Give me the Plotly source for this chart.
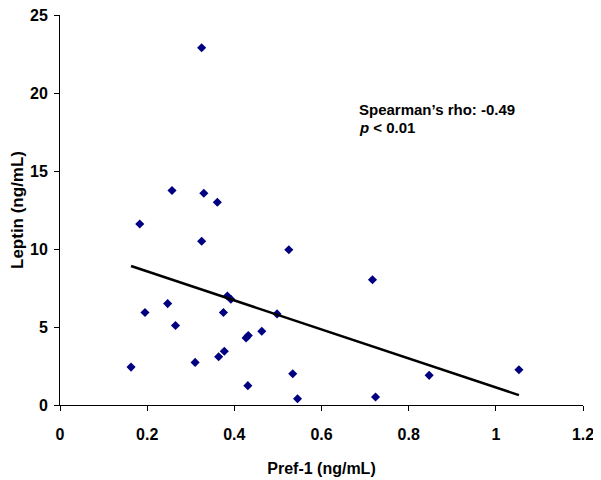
import numpy as np
import plotly.graph_objects as go

pref1 = [0.163, 0.183, 0.195, 0.247, 0.257, 0.265, 0.310, 0.325, 0.325, 0.330,
         0.361, 0.364, 0.377, 0.375, 0.384, 0.392, 0.427, 0.432, 0.431, 0.463,
         0.498, 0.525, 0.534, 0.545, 0.717, 0.724, 0.847, 1.053]
leptin = [2.43, 11.6, 5.93, 6.5, 13.75, 5.1, 2.73, 22.9, 10.5, 13.57,
          13.0, 3.09, 3.45, 5.93, 6.99, 6.78, 4.3, 4.45, 1.24, 4.73,
          5.84, 9.95, 2.0, 0.4, 8.03, 0.51, 1.9, 2.26]

slope, intercept = np.polyfit(pref1, leptin, 1)
trend_x = [min(pref1), max(pref1)]
trend_y = [slope * v + intercept for v in trend_x]

x_ticks = [0, 0.2, 0.4, 0.6, 0.8, 1, 1.2]
x_tick_labels = ["0", "0.2", "0.4", "0.6", "0.8", "1", "1.2"]
y_ticks = [0, 5, 10, 15, 20, 25]

FONT = "Liberation Sans, Arial, sans-serif"

fig = go.Figure()
fig.add_trace(go.Scatter(
    x=pref1, y=leptin, mode="markers",
    marker=dict(symbol="diamond", size=7, color="#000080"),
    showlegend=False, cliponaxis=False))
fig.add_trace(go.Scatter(
    x=trend_x, y=trend_y, mode="lines",
    line=dict(color="black", width=2.5),
    showlegend=False))

# page body has an 8px default margin, so the figure is sized 593x472
fig.update_layout(
    width=593, height=472,
    margin=dict(l=52, r=18, t=7, b=75),
    paper_bgcolor="white", plot_bgcolor="white",
    font=dict(family=FONT, color="black"),
    xaxis=dict(
        range=[0, 1.2], tickvals=x_ticks, ticktext=x_tick_labels,
        showline=True, linecolor="black", linewidth=1,
        ticks="outside", ticklen=5, tickcolor="black",
        showgrid=False, zeroline=False, automargin=False,
        tickfont=dict(size=16, family=FONT, weight="bold"),
        ticklabelstandoff=10, ticklabeloverflow="allow",
        title=dict(text="Pref-1 (ng/mL)", font=dict(size=16, family=FONT, weight="bold"), standoff=20),
    ),
    yaxis=dict(
        range=[0, 25], tickvals=y_ticks,
        showline=True, linecolor="black", linewidth=1,
        ticks="outside", ticklen=5, tickcolor="black",
        showgrid=False, zeroline=False, automargin=False,
        tickfont=dict(size=16, family=FONT, weight="bold"),
        ticklabelstandoff=3, ticklabeloverflow="allow",
        title=dict(text="Leptin (ng/mL)", font=dict(size=17, family=FONT, weight="bold"), standoff=6),
    ),
    annotations=[
        dict(text="Spearman’s rho: -0.49", xref="paper", yref="paper",
             x=(356.7 - 60) / 523, y=(405 - 109) / 390, xanchor="left", yanchor="middle",
             showarrow=False, font=dict(size=15, family=FONT, weight="bold")),
        dict(text="<i>p</i> &lt; 0.01", xref="paper", yref="paper",
             x=(356.7 - 60) / 523, y=(405 - 127.3) / 390, xanchor="left", yanchor="middle",
             showarrow=False, font=dict(size=15, family=FONT, weight="bold")),
    ],
)

fig.write_html("out.html")
